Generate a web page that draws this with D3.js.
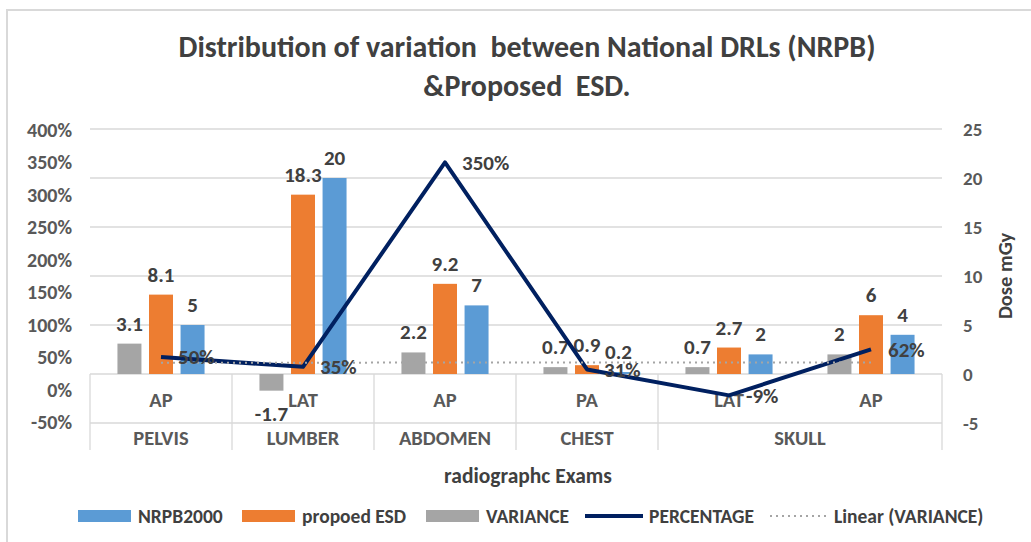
<!DOCTYPE html>
<html>
<head>
<meta charset="utf-8">
<script src="https://d3js.org/d3.v7.min.js"></script>
<style>
  body { margin: 0; background: #fff; }
  text { font-family: Carlito, Calibri, Lato, sans-serif; font-weight: bold; }
</style>
</head>
<body>
<div id="my_dataviz"></div>
<script>

// data
var exams   = ["AP", "LAT", "AP", "PA", "LAT", "AP"]
var regions = ["PELVIS", "LUMBER", "ABDOMEN", "CHEST", "SKULL", "SKULL"]
var variance   = [3.1, -1.7, 2.2, 0.7, 0.7, 2]
var proposed   = [8.1, 18.3, 9.2, 0.9, 2.7, 6]
var nrpb2000   = [5, 20, 7, 0.2, 2, 4]
var percentage = [0.50, 0.35, 3.50, 0.31, -0.09, 0.62]
var pctLabels  = ["50%", "35%", "350%", "31%", "-9%", "62%"]
var leftTicks  = [-0.5, 0, 0.5, 1, 1.5, 2, 2.5, 3, 3.5, 4]
var rightTicks = [-5, 0, 5, 10, 15, 20, 25]
var barSeries  = ["VARIANCE", "propoed ESD", "NRPB2000"]
var legendKeys = ["NRPB2000", "propoed ESD", "VARIANCE", "PERCENTAGE", "Linear (VARIANCE)"]

var colors = {"NRPB2000": "#5B9BD5", "propoed ESD": "#ED7D31", "VARIANCE": "#A5A5A5",
              "PERCENTAGE": "#002060", "Linear (VARIANCE)": "#A5A5A5"}
var textColor = "#404040"
var axisColor = "#595959"
var gridColor = "#D9D9D9"

var width = 1031, height = 542
var plot = {left: 90, right: 942, top: 129, bottom: 423}

var svg = d3.select("#my_dataviz")
  .append("svg")
    .attr("width", width)
    .attr("height", height)

// chart border (only top / left visible in the frame)
svg.append("rect")
  .attr("x", 7).attr("y", 10)
  .attr("width", width + 20).attr("height", height + 20)
  .attr("fill", "none")
  .attr("stroke", gridColor)
  .attr("stroke-width", 2)

// title
svg.append("text")
  .attr("x", 527).attr("y", 57)
  .attr("text-anchor", "middle")
  .attr("font-size", 30)
  .attr("fill", textColor)
  .style("white-space", "pre")
  .text("Distribution of variation  between National DRLs (NRPB)")
svg.append("text")
  .attr("x", 527).attr("y", 96)
  .attr("text-anchor", "middle")
  .attr("font-size", 30)
  .attr("fill", textColor)
  .style("white-space", "pre")
  .text("&Proposed  ESD.")

// scales
var idx = d3.range(exams.length)
var x = d3.scaleBand()
  .domain(idx)
  .range([plot.left, plot.right])
var xSub = d3.scaleBand()
  .domain(barSeries)
  .range([0, x.bandwidth()])
  .paddingInner(0.24)
  .paddingOuter(0.87)
var yDose = d3.scaleLinear()
  .domain([-5, 25])
  .range([plot.bottom, plot.top])
var yPct = d3.scaleLinear()
  .domain([-0.5, 4])
  .range([plot.bottom - 1, plot.top + 1])

// gridlines (from the dose axis)
svg.append("g")
  .selectAll("line")
  .data(rightTicks.filter(function(d){ return d > 0 }))
  .enter()
  .append("line")
    .attr("x1", plot.left).attr("x2", plot.right)
    .attr("y1", function(d){ return yDose(d) })
    .attr("y2", function(d){ return yDose(d) })
    .attr("stroke", gridColor)
    .attr("stroke-width", 1.3)

// multi level category axis: box lines
var axisBottom = 450
svg.append("line")
  .attr("x1", plot.left).attr("x2", plot.right)
  .attr("y1", yDose(0)).attr("y2", yDose(0))
  .attr("stroke", gridColor).attr("stroke-width", 1.3)
svg.append("line")
  .attr("x1", plot.left).attr("x2", plot.right)
  .attr("y1", yDose(-5)).attr("y2", yDose(-5))
  .attr("stroke", gridColor).attr("stroke-width", 1.3)

// group spans for the outer level
var groups = []
regions.forEach(function(r, i){
  if (groups.length && groups[groups.length - 1].name == r) {
    groups[groups.length - 1].end = i
  } else {
    groups.push({name: r, start: i, end: i})
  }
})
var seps = groups.map(function(g){ return x(g.start) })
seps.push(plot.right)
svg.append("g")
  .selectAll("line")
  .data(seps)
  .enter()
  .append("line")
    .attr("x1", function(d){ return d }).attr("x2", function(d){ return d })
    .attr("y1", yDose(0)).attr("y2", axisBottom)
    .attr("stroke", gridColor).attr("stroke-width", 1.3)

// inner level labels
svg.append("g")
  .selectAll("text")
  .data(idx)
  .enter()
  .append("text")
    .attr("x", function(d){ return x(d) + x.bandwidth() / 2 })
    .attr("y", 407)
    .attr("text-anchor", "middle")
    .attr("font-size", 20.5)
    .attr("fill", axisColor)
    .text(function(d){ return exams[d] })

// outer level labels
svg.append("g")
  .selectAll("text")
  .data(groups)
  .enter()
  .append("text")
    .attr("x", function(d){ return (x(d.start) + x(d.end) + x.bandwidth()) / 2 })
    .attr("y", 445)
    .attr("text-anchor", "middle")
    .attr("font-size", 20.5)
    .attr("fill", axisColor)
    .text(function(d){ return d.name })

// left axis (percentage)
svg.append("g")
  .selectAll("text")
  .data(leftTicks)
  .enter()
  .append("text")
    .attr("x", 72)
    .attr("y", function(d){ return yPct(d) })
    .attr("dy", "0.35em")
    .attr("text-anchor", "end")
    .attr("font-size", 20)
    .attr("fill", axisColor)
    .text(function(d){ return Math.round(d * 100) + "%" })

// right axis (dose)
svg.append("g")
  .selectAll("text")
  .data(rightTicks)
  .enter()
  .append("text")
    .attr("x", 963)
    .attr("y", function(d){ return yDose(d) })
    .attr("dy", "0.35em")
    .attr("text-anchor", "start")
    .attr("font-size", 19)
    .attr("fill", axisColor)
    .text(function(d){ return d })

svg.append("text")
  .attr("transform", "translate(1012," + 276 + ") rotate(-90)")
  .attr("text-anchor", "middle")
  .attr("font-size", 20.5)
  .attr("fill", textColor)
  .text("Dose mGy")

svg.append("text")
  .attr("x", 528).attr("y", 483)
  .attr("text-anchor", "middle")
  .attr("font-size", 21.5)
  .attr("fill", textColor)
  .text("radiographc Exams")

// bars
var barData = []
idx.forEach(function(i){
  barData.push({i: i, key: "VARIANCE", v: variance[i]})
  barData.push({i: i, key: "propoed ESD", v: proposed[i]})
  barData.push({i: i, key: "NRPB2000", v: nrpb2000[i]})
})
svg.append("g")
  .selectAll("rect")
  .data(barData)
  .enter()
  .append("rect")
    .attr("x", function(d){ return x(d.i) + xSub(d.key) })
    .attr("y", function(d){ return yDose(Math.max(0, d.v)) })
    .attr("width", xSub.bandwidth())
    .attr("height", function(d){ return Math.abs(yDose(d.v) - yDose(0)) })
    .attr("fill", function(d){ return colors[d.key] })

// bar value labels
svg.append("g")
  .selectAll("text")
  .data(barData)
  .enter()
  .append("text")
    .attr("x", function(d){ return x(d.i) + xSub(d.key) + xSub.bandwidth() / 2 })
    .attr("y", function(d){ return d.v >= 0 ? yDose(d.v) - 13 : yDose(d.v) + 30 })
    .attr("text-anchor", "middle")
    .attr("font-size", 21)
    .attr("fill", textColor)
    .text(function(d){ return d.v })

// linear trendline of VARIANCE
var xs = idx.map(function(i){ return i + 1 })
var mx = d3.mean(xs), my = d3.mean(variance)
var slope = d3.sum(xs, function(v, k){ return (v - mx) * (variance[k] - my) }) /
            d3.sum(xs, function(v){ return (v - mx) * (v - mx) })
var icpt = my - slope * mx
var cx = function(i){ return x(i) + x.bandwidth() / 2 }

// percentage line
svg.append("path")
  .datum(percentage)
  .attr("fill", "none")
  .attr("stroke", colors["PERCENTAGE"])
  .attr("stroke-width", 4)
  .attr("stroke-linejoin", "round")
  .attr("d", d3.line()
      .x(function(d, i){ return cx(i) })
      .y(function(d){ return yPct(d) })
  )

svg.append("path")
  .datum([0, idx.length - 1])
  .attr("fill", "none")
  .attr("stroke", colors["Linear (VARIANCE)"])
  .attr("stroke-width", 2)
  .attr("stroke-dasharray", "2,4")
  .attr("d", d3.line()
      .x(function(d){ return cx(d) })
      .y(function(d){ return yDose(icpt + slope * (d + 1)) })
  )

// percentage labels
svg.append("g")
  .selectAll("text")
  .data(percentage)
  .enter()
  .append("text")
    .attr("x", function(d, i){ return cx(i) + 17 })
    .attr("y", function(d){ return yPct(d) })
    .attr("dy", "0.35em")
    .attr("font-size", 21)
    .attr("fill", textColor)
    .text(function(d, i){ return pctLabels[i] })

// legend
var legendX = [78, 242, 426, 585, 770]
var legend = svg.append("g")
  .selectAll("g")
  .data(legendKeys)
  .enter()
  .append("g")
    .attr("transform", function(d, i){ return "translate(" + legendX[i] + ",516)" })
legend.each(function(d, i){
  var g = d3.select(this)
  if (i < 3) {
    g.append("rect")
      .attr("x", 0).attr("y", -6)
      .attr("width", 53).attr("height", 12)
      .attr("fill", colors[d])
  } else {
    g.append("line")
      .attr("x1", 0).attr("x2", 58)
      .attr("y1", 0).attr("y2", 0)
      .attr("stroke", colors[d])
      .attr("stroke-width", i == 3 ? 4 : 2)
      .attr("stroke-dasharray", i == 4 ? "2,4" : null)
  }
  g.append("text")
    .attr("x", i < 3 ? 60 : 64)
    .attr("dy", "0.35em")
    .attr("font-size", 19.5)
    .attr("fill", textColor)
    .text(d)
})

</script>
</body>
</html>
